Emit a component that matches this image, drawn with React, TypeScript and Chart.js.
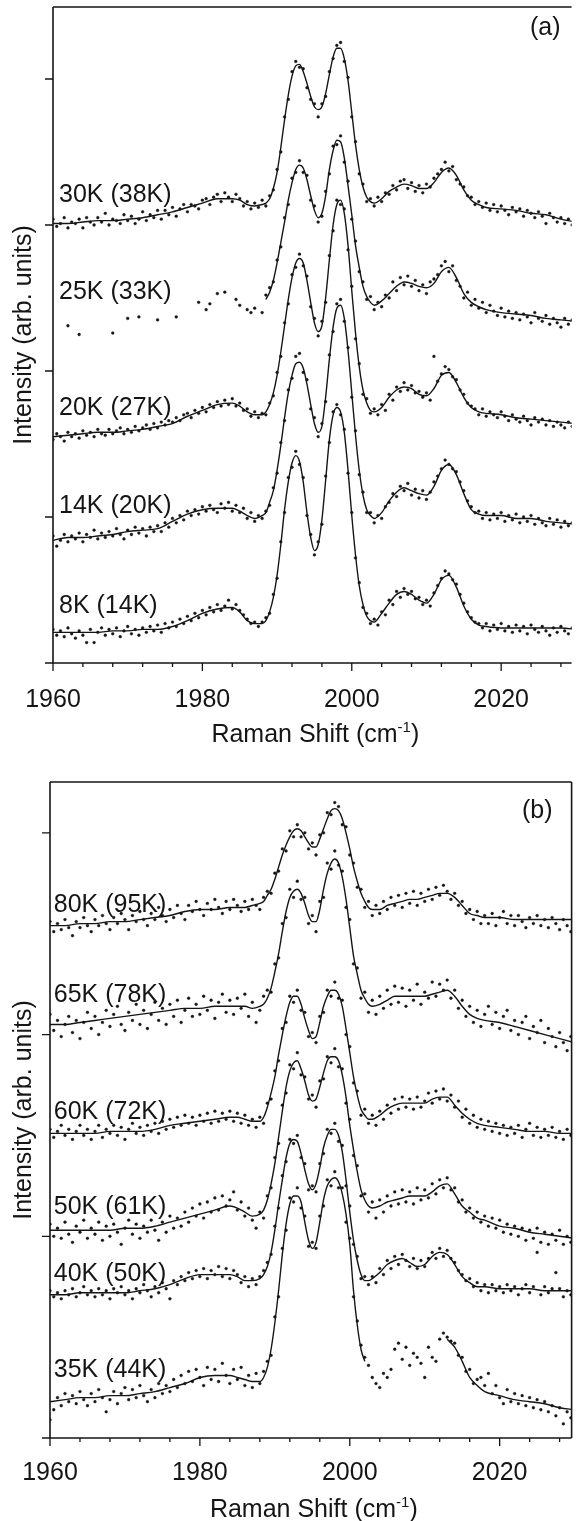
import React, { useEffect, useRef } from "react";
import { Chart, registerables } from "chart.js";

Chart.register(...registerables);

const INK = "#151515";
const FONT = "'Liberation Sans', Arial, Helvetica, sans-serif";
const FS = 25;

// ---------- shared x grids (Raman shift, cm^-1) ----------
const FIT_X = [
  1960, 1962, 1964, 1966, 1968, 1970, 1972, 1974, 1976, 1978, 1980, 1982, 1984, 1985, 1986, 1987,
  1988, 1988.5, 1989, 1989.5, 1990, 1990.5, 1991, 1991.5, 1992, 1992.5, 1993, 1993.5, 1994, 1994.5,
  1995, 1995.5, 1996, 1996.5, 1997, 1997.5, 1998, 1998.5, 1999, 1999.5, 2000, 2000.5, 2001, 2001.5,
  2002, 2002.5, 2003, 2004, 2005, 2006, 2007, 2008, 2009, 2010, 2011, 2012, 2013, 2014, 2015, 2016,
  2017, 2018, 2020, 2022, 2024, 2026, 2028, 2030,
];
// spectrometer sampling grid of the measured points (0.5 cm^-1 steps)
const DOT_X = Array.from({ length: 140 }, (_, i) => 1960 + i * 0.5);

const X_TICK_LABELS = [1960, 1980, 2000, 2020];
const Y_TICKS_A = [0, 100, 200, 300, 400];
const Y_TICKS_B = [0, 100, 200, 300];

// ---------- panel (a) : fitted curves (offset, arb. units) ----------
const FIT_30K = [301,301,302,303,303,304,305,307,309,312,315,318,318,317,314,313,314,315,318,325,336,353,372,389,402,409,410,405,397,388,381,379,381,390,403,415,421,421,414,399,377,355,338,326,319,316,315,318,323,326,328,327,325,325,329,336,339,334,324,317,314,312,311,310,308,307,304,302];
const FIT_25K = [null,null,null,null,null,null,null,null,null,null,null,null,null,null,null,null,null,249,254,262,274,288,302,317,329,338,341,339,331,320,310,305,308,320,338,351,358,357,346,327,307,286,271,258,251,247,245,248,253,258,261,260,258,257,260,268,271,264,253,247,244,242,240,239,238,236,235,234];
const FIT_20K = [155,156,157,158,158,159,160,162,164,169,173,177,178,176,172,170,170,172,177,185,197,213,231,249,264,274,277,274,262,247,233,227,231,250,276,300,314,317,308,286,255,226,203,187,178,173,172,175,182,187,189,188,184,183,188,197,199,192,182,175,172,171,170,168,167,166,165,164];
const FIT_14K = [84,86,86,87,88,90,91,92,97,102,105,106,106,104,101,99,101,103,110,118,132,149,168,185,197,205,206,202,191,177,164,158,162,182,208,230,243,245,236,214,185,156,132,115,105,101,99,103,111,117,120,118,116,115,121,132,136,129,116,105,102,101,101,99,99,97,96,95];
const FIT_8K = [21,21,21,21,22,22,23,23,25,29,34,37,38,35,29,27,27,29,35,45,60,81,105,124,137,142,138,124,103,86,77,81,98,125,153,170,175,172,158,132,101,74,53,40,32,29,28,34,41,47,49,47,43,41,47,57,60,52,39,30,26,25,24,24,24,24,24,23];

// ---------- panel (a) : measured points ----------
const DOTS_30K = [
  304,299,301,305,298,302,301,304,298,305,
  302,300,305,302,308,300,304,303,301,307,
  303,306,301,304,309,303,307,305,310,304,
  310,307,312,306,311,314,309,314,313,311,
  317,318,314,319,321,316,322,319,316,321,
  318,313,316,311,315,312,317,313,320,324,
  338,350,374,386,405,412,408,407,394,386,
  383,374,383,388,405,414,423,425,412,401,
  374,357,335,328,316,318,313,319,316,322,
  321,327,324,330,331,325,329,323,327,322,
  328,326,332,335,338,343,337,340,331,328,
  326,320,319,314,316,312,315,310,314,309,
  313,310,307,312,309,311,306,310,308,305,
  309,306,301,308,305,302,305,301,304,300,
];
const DOTS_25K = [
  null,null,null,null,231,null,null,225,null,null,
  null,null,null,null,null,null,226,null,null,null,
  236,null,null,237,null,null,null,null,235,null,
  null,null,null,237,null,null,null,null,null,247,
  null,242,246,null,253,null,254,null,null,249,
  245,null,242,240,243,null,240,252,257,261,
  276,285,305,314,332,336,344,336,334,317,
  313,302,306,323,335,354,355,361,343,330,
  304,289,268,261,249,251,242,247,244,252,
  250,261,255,264,259,265,258,262,255,259,
  253,261,263,266,272,275,268,272,262,258,
  250,254,245,249,243,247,240,245,241,238,
  243,237,241,236,240,235,239,237,233,240,
  236,234,238,232,236,233,230,236,232,235,
];
const DOTS_20K = [
  153,157,155,152,158,155,157,154,159,156,
  158,155,160,157,156,160,157,159,161,157,
  160,158,162,159,161,163,160,164,161,165,
  163,166,165,168,166,170,171,168,173,171,
  175,172,177,175,179,176,180,177,181,176,
  178,173,174,169,172,168,171,170,178,183,
  199,210,233,246,266,271,280,272,265,244,
  236,224,234,247,279,296,317,314,311,283,
  258,222,205,184,181,171,174,170,177,173,
  184,180,189,186,192,187,190,185,186,182,
  185,180,210,193,198,203,201,196,194,187,
  184,178,176,174,170,174,169,172,170,168,
  172,169,166,170,167,165,169,166,163,168,
  165,167,163,166,162,165,163,161,165,162,
];
const DOTS_14K = [
  87,80,84,88,83,87,85,89,83,88,
  86,91,85,89,86,90,87,92,88,85,
  91,88,93,89,92,87,93,90,94,90,
  96,93,99,96,101,98,104,101,105,102,
  107,104,108,105,103,109,106,110,104,108,
  103,106,99,103,97,101,99,104,108,120,
  130,151,166,187,195,210,212,199,194,174,
  168,155,164,179,211,227,246,249,234,216,
  182,159,129,117,103,103,96,101,99,107,
  110,116,114,121,118,123,115,119,113,118,
  112,117,124,128,133,139,136,133,131,124,
  118,111,107,103,104,99,103,98,102,99,
  103,97,101,98,102,96,100,97,101,95,
  99,96,94,99,95,98,93,97,94,96,
];
const DOTS_8K = [
  23,19,22,18,24,20,17,22,19,14,
  23,14,21,24,19,23,20,24,18,22,
  25,20,23,19,24,21,25,22,26,21,
  27,24,28,25,30,27,32,29,34,31,
  36,33,38,35,40,36,39,43,37,40,
  36,33,30,27,28,25,28,31,34,47,
  58,83,103,127,134,145,136,127,101,88,
  74,83,95,128,151,172,177,170,160,130,
  103,72,55,38,34,27,30,26,35,33,
  43,40,49,45,51,47,49,44,45,40,
  43,39,48,53,58,63,61,57,54,47,
  41,35,31,28,27,24,27,22,26,23,
  27,22,25,21,26,22,25,20,26,23,
  21,25,22,19,24,21,25,22,20,24,
];

// ---------- panel (b) : fitted curves ----------
const FIT_80K = [254,254,255,255,256,256,257,258,259,261,262,262,263,263,263,264,265,266,269,272,277,283,289,294,298,301,302,301,298,295,293,293,297,302,307,311,312,311,307,300,292,283,276,270,266,263,262,262,264,265,266,267,267,268,269,270,270,268,264,260,259,258,258,257,257,257,257,257];
const FIT_65K = [205,205,206,207,208,209,210,211,212,213,213,214,214,214,214,213,214,215,218,223,231,240,251,261,268,271,272,270,265,259,256,256,262,272,280,285,287,285,278,267,253,239,230,222,218,215,214,215,217,219,219,219,219,219,220,221,222,219,214,210,208,207,206,204,202,200,198,196];
const FIT_60K = [151,151,151,151,152,152,152,153,155,156,157,158,159,159,158,157,157,159,164,171,179,190,200,209,216,219,219,215,208,202,198,199,206,214,219,222,222,220,214,203,191,179,170,163,160,158,158,160,163,165,166,166,166,166,168,169,169,165,161,158,156,155,154,153,152,152,151,151];
const FIT_50K = [103,103,103,103,103,104,104,105,107,109,111,113,115,114,112,110,111,113,118,126,136,149,162,174,182,186,187,183,177,170,167,168,174,181,187,189,189,187,180,169,155,143,132,123,118,115,114,115,117,118,119,120,120,120,122,125,126,121,115,112,109,108,105,104,102,101,100,99];
const FIT_40K = [71,71,72,72,72,72,73,74,76,79,81,81,81,80,78,78,79,81,85,92,103,116,128,139,146,148,147,141,133,126,123,126,134,144,150,153,153,150,142,128,112,98,88,81,78,78,79,82,86,88,89,87,85,86,90,92,91,86,80,77,75,75,74,74,74,73,73,73];
const FIT_35K = [18,19,20,20,21,21,22,23,25,27,30,31,31,30,29,28,28,30,35,44,57,73,91,106,116,120,120,117,107,98,94,97,107,118,125,128,129,127,121,111,96,73,56,44,38,null,null,null,null,null,null,null,null,null,null,null,49,45,38,30,26,23,21,19,18,17,15,14];

// ---------- panel (b) : measured points ----------
const DOTS_80K = [
  256,251,255,252,257,253,249,256,253,258,
  254,251,257,254,259,255,252,258,255,260,
  257,252,259,256,261,257,254,260,257,263,
  259,256,262,258,264,260,257,264,261,266,
  262,259,265,262,267,263,260,266,262,267,
  264,261,266,262,267,264,262,268,271,270,
  280,281,292,291,301,298,304,298,300,292,
  295,289,299,300,310,309,315,313,304,303,
  289,285,273,272,263,266,259,264,260,266,
  262,268,264,269,263,270,265,271,264,270,
  266,272,267,273,269,274,271,267,270,264,
  266,260,262,257,261,255,259,255,260,254,
  258,261,255,259,254,259,256,253,258,255,
  259,254,257,253,258,255,252,257,254,251,
];
const DOTS_65K = [
  210,202,207,199,205,209,201,207,198,206,
  211,203,209,200,206,212,204,210,214,205,
  202,211,207,215,205,212,203,210,216,207,
  213,205,215,209,217,206,212,218,209,215,
  210,219,212,217,208,216,220,211,217,210,
  218,213,220,209,216,206,212,219,222,221,
  235,238,255,258,272,268,276,267,268,255,
  259,251,266,268,285,282,291,284,281,263,
  257,235,233,218,221,211,217,210,219,213,
  222,215,224,216,223,214,222,217,225,215,
  221,218,226,219,225,222,227,218,222,213,
  217,209,214,206,212,204,210,214,205,211,
  203,209,212,202,207,200,206,209,198,204,
  201,207,196,203,199,194,201,196,192,199,
];
const DOTS_60K = [
  153,149,152,155,150,153,148,152,155,150,
  153,148,152,155,149,153,151,155,150,154,
  148,153,156,151,154,150,155,152,156,151,
  157,153,158,154,159,155,160,156,159,155,
  160,157,161,156,162,157,161,158,162,157,
  161,156,160,155,158,154,159,156,166,168,
  182,187,203,206,219,216,222,212,211,199,
  201,196,209,211,222,219,226,218,217,200,
  194,176,172,160,163,156,160,155,162,158,
  165,161,168,163,169,164,168,163,169,164,
  167,171,166,172,168,173,167,170,164,167,
  159,163,156,160,154,158,153,157,152,156,
  151,155,150,154,151,155,149,153,156,150,
  154,149,153,150,154,149,152,148,153,150,
];
const DOTS_50K = [
  106,100,104,99,107,101,97,105,102,108,
  99,104,101,107,98,105,100,106,102,96,
  104,108,101,106,99,105,102,108,103,98,
  107,102,110,104,109,105,112,107,114,110,
  116,109,117,112,119,113,120,115,118,122,
  113,117,110,114,108,104,112,109,120,124,
  139,146,165,171,185,183,191,180,179,168,
  170,164,177,178,189,186,193,184,183,166,
  158,140,135,120,121,112,117,109,118,112,
  120,115,122,116,123,117,122,116,124,118,
  123,119,126,121,128,124,129,123,124,117,
  118,112,114,109,112,107,110,105,109,104,
  108,102,106,101,105,100,104,98,103,99,
  104,97,102,96,101,98,103,96,100,97,
];
const DOTS_40K = [
  73,70,72,69,73,71,74,70,72,75,
  71,73,70,74,71,73,69,74,72,75,
  71,73,69,74,72,76,73,70,75,72,
  77,74,69,78,76,80,78,82,79,83,
  80,84,79,83,81,85,80,84,79,83,
  81,77,80,75,79,76,80,83,87,91,
  105,114,130,137,148,146,150,139,136,123,
  125,122,136,141,153,151,156,147,145,125,
  115,96,90,79,80,76,80,77,84,81,
  88,84,90,86,91,88,85,89,84,88,
  85,89,92,89,94,90,93,89,87,83,
  81,78,79,75,77,73,76,72,76,73,
  75,72,76,73,75,71,74,76,72,75,
  92,71,75,72,74,82,74,70,73,71,
];
const DOTS_35K = [
  9,14,20,16,22,18,21,17,23,19,
  16,22,18,24,20,13,19,23,17,22,
  25,19,24,20,26,21,18,24,20,27,
  22,26,23,29,25,31,27,33,28,34,
  30,26,35,29,34,28,37,31,27,34,
  29,35,26,31,25,32,27,33,38,41,
  60,70,94,103,119,117,124,114,110,95,
  97,94,110,115,128,125,132,124,124,107,
  99,70,58,46,40,36,30,27,25,32,
  30,34,44,47,39,45,36,42,40,37,
  30,45,40,38,49,52,50,48,47,41,
  40,33,34,27,29,30,26,32,22,26,
  20,17,24,18,22,17,21,16,20,15,
  19,14,18,13,16,11,15,7,13,10,
];

// ---------- curve labels ----------
const LABELS_A = ["30K (38K)", "25K (33K)", "20K (27K)", "14K (20K)", "8K (14K)"];
const LABELS_B = ["80K (95K)", "65K (78K)", "60K (72K)", "50K (61K)", "40K (50K)", "35K (44K)"];
// label anchors: [x (cm^-1), baseline (arb. units)]
const LABEL_AT_A: [number, number][] = [[1960.8, 316], [1960.8, 249], [1960.8, 170], [1960.8, 103], [1960.8, 34]];
const LABEL_AT_B: [number, number][] = [[1960.5, 261], [1960.5, 216], [1960.5, 158], [1960.5, 111], [1960.5, 78], [1960.5, 30]];

type Panel = {
  fits: (number | null)[][];
  dots: (number | null)[][];
  labels: string[];
  labelAt: [number, number][];
  yTicks: number[];
  yMax: number;
  xMax: number;
  tag: string;
  tagRightInset: number;
  tagBaseline: number;
  rightBorder: boolean;
  canvasH: number;
  padTop: number;
  padRight: number;
  leftW: number;
  bottomH: number;
  tickLabelDy: number;
  titleDy: number;
};

const PANEL_A: Panel = {
  fits: [FIT_30K, FIT_25K, FIT_20K, FIT_14K, FIT_8K],
  dots: [DOTS_30K, DOTS_25K, DOTS_20K, DOTS_14K, DOTS_8K],
  labels: LABELS_A,
  labelAt: LABEL_AT_A,
  yTicks: Y_TICKS_A,
  yMax: 449.3,
  xMax: 2029.43,
  tag: "(a)",
  tagRightInset: 11,
  tagBaseline: 28,
  rightBorder: false,
  canvasH: 760,
  padTop: 7,
  padRight: 0,
  leftW: 53,
  bottomH: 97,
  tickLabelDy: 44,
  titleDy: 79,
};

const PANEL_B: Panel = {
  fits: [FIT_80K, FIT_65K, FIT_60K, FIT_50K, FIT_40K, FIT_35K],
  dots: [DOTS_80K, DOTS_65K, DOTS_60K, DOTS_50K, DOTS_40K, DOTS_35K],
  labels: LABELS_B,
  labelAt: LABEL_AT_B,
  yTicks: Y_TICKS_B,
  yMax: 325.2,
  xMax: 2029.6,
  tag: "(b)",
  tagRightInset: 19,
  tagBaseline: 36,
  rightBorder: true,
  canvasH: 761,
  padTop: 22,
  padRight: 3,
  leftW: 50,
  bottomH: 83,
  tickLabelDy: 42,
  titleDy: 79,
};

function framePlugin(p: Panel) {
  return {
    id: "frame",
    afterDraw(chart: any) {
      const ctx: CanvasRenderingContext2D = chart.ctx;
      const { left, right, top, bottom } = chart.chartArea;
      const xs = chart.scales.x;
      const ys = chart.scales.y;
      ctx.save();
      ctx.strokeStyle = INK;
      ctx.fillStyle = INK;
      ctx.lineCap = "butt";

      // frame
      ctx.lineWidth = 1.6;
      ctx.beginPath();
      ctx.moveTo(left, top);
      ctx.lineTo(right, top);
      ctx.moveTo(left, top);
      ctx.lineTo(left, bottom);
      ctx.lineTo(right, bottom);
      if (p.rightBorder) {
        ctx.moveTo(right, top);
        ctx.lineTo(right, bottom);
      }
      ctx.stroke();

      // ticks
      ctx.lineWidth = 1.3;
      ctx.beginPath();
      for (const v of p.yTicks) {
        const py = ys.getPixelForValue(v);
        ctx.moveTo(left - 8, py);
        ctx.lineTo(left, py);
      }
      for (let v = 1960; v <= xs.max; v += 4) {
        const px = xs.getPixelForValue(v);
        const major = X_TICK_LABELS.includes(v);
        ctx.moveTo(px, bottom);
        ctx.lineTo(px, bottom + (major ? 8 : 4));
      }
      ctx.stroke();

      // tick labels
      ctx.font = `${FS}px ${FONT}`;
      ctx.textAlign = "center";
      ctx.textBaseline = "alphabetic";
      for (const v of X_TICK_LABELS) {
        ctx.fillText(String(v), xs.getPixelForValue(v), bottom + p.tickLabelDy);
      }

      // x title with superscript
      const main = "Raman Shift (cm";
      const sup = "-1";
      const tail = ")";
      ctx.font = `${FS}px ${FONT}`;
      const wMain = ctx.measureText(main).width;
      const wTail = ctx.measureText(tail).width;
      ctx.font = `15px ${FONT}`;
      const wSup = ctx.measureText(sup).width;
      const total = wMain + wSup + wTail;
      const cx = (left + right) / 2 + 3;
      const x0 = cx - total / 2;
      const by = bottom + p.titleDy;
      ctx.textAlign = "left";
      ctx.font = `${FS}px ${FONT}`;
      ctx.fillText(main, x0, by);
      ctx.font = `15px ${FONT}`;
      ctx.fillText(sup, x0 + wMain, by - 10);
      ctx.font = `${FS}px ${FONT}`;
      ctx.fillText(tail, x0 + wMain + wSup, by);

      // y title
      ctx.save();
      ctx.translate(31, (top + bottom) / 2);
      ctx.rotate(-Math.PI / 2);
      ctx.textAlign = "center";
      ctx.fillText("Intensity (arb. units)", 0, 0);
      ctx.restore();

      // curve labels
      ctx.textAlign = "left";
      p.labels.forEach((t, i) => {
        const [lx, ly] = p.labelAt[i];
        ctx.fillText(t, xs.getPixelForValue(lx), ys.getPixelForValue(ly));
      });

      // panel tag
      ctx.textAlign = "right";
      ctx.fillText(p.tag, right - p.tagRightInset, top + p.tagBaseline);
      ctx.restore();
    },
  };
}

function SpectraPanel({ panel }: { panel: Panel }) {
  const ref = useRef<HTMLCanvasElement>(null);
  useEffect(() => {
    const datasets: any[] = [];
    panel.fits.forEach((fit, k) => {
      datasets.push({
        data: FIT_X.map((x, i) => ({ x, y: fit[i] })),
        borderColor: INK,
        borderWidth: 1.4,
        pointRadius: 0,
        cubicInterpolationMode: "monotone",
        spanGaps: false,
        fill: false,
        order: 2,
      });
      const dots = panel.dots[k];
      datasets.push({
        data: DOT_X.map((x, i) => ({ x, y: dots[i] })),
        showLine: false,
        pointRadius: 1.4,
        pointBackgroundColor: INK,
        pointBorderColor: INK,
        pointBorderWidth: 0.4,
        order: 1,
      });
    });
    const chart = new Chart(ref.current as HTMLCanvasElement, {
      type: "line",
      data: { datasets },
      options: {
        responsive: false,
        animation: false,
        events: [],
        layout: { padding: { top: panel.padTop, right: panel.padRight, left: 0, bottom: 0 } },
        plugins: { legend: { display: false }, tooltip: { enabled: false } },
        scales: {
          x: {
            type: "linear",
            min: 1960,
            max: panel.xMax,
            grid: { display: false, drawTicks: false },
            border: { display: false },
            ticks: { display: false },
            afterFit: (s: any) => {
              s.height = panel.bottomH;
            },
          },
          y: {
            type: "linear",
            min: 0,
            max: panel.yMax,
            grid: { display: false, drawTicks: false },
            border: { display: false },
            ticks: { display: false },
            afterFit: (s: any) => {
              s.width = panel.leftW;
            },
          },
        },
      } as any,
      plugins: [framePlugin(panel)],
    });
    return () => chart.destroy();
  }, [panel]);
  return (
    <canvas
      ref={ref}
      width={576}
      height={panel.canvasH}
      style={{ display: "block", width: 576, height: panel.canvasH }}
    />
  );
}

export default function App() {
  return (
    <div
      style={{
        position: "absolute",
        left: 0,
        top: 0,
        width: 576,
        height: 1521,
        background: "#ffffff",
        overflow: "hidden",
      }}
    >
      <SpectraPanel panel={PANEL_A} />
      <SpectraPanel panel={PANEL_B} />
    </div>
  );
}
